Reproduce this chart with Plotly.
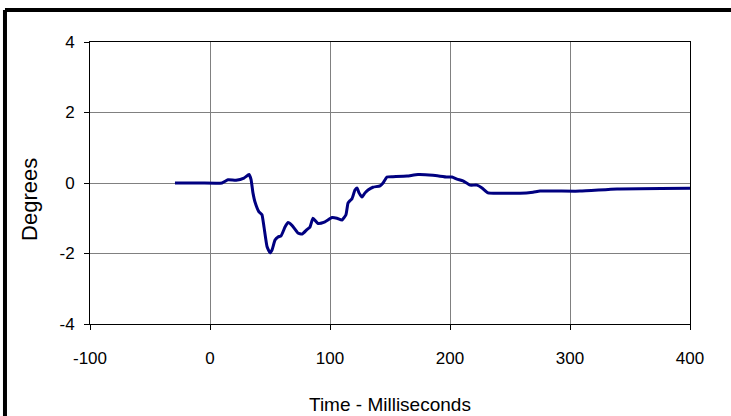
import plotly.graph_objects as go

time_ms = [-29.2, -8.3, 10, 15, 21.7, 28.3, 32.5, 34.2, 35.8, 37.5, 40.8, 43.3, 45, 47.5, 50,
           51.7, 54.2, 56.7, 59.2, 62.5, 65, 68.3, 73.3, 76.7, 80.8, 83.3, 85.8, 90, 95.8,
           101.7, 105.8, 110, 113.3, 115, 116.7, 118.3, 120.8, 122.5, 124.2, 126.7, 129.2,
           131.7, 135.8, 141.7, 144.2, 147.5, 152.5, 164.2, 173.3, 185.8, 197.5, 201.7,
           205.8, 210.8, 216.7, 222.5, 226.7, 231.7, 241.7, 258.3, 269.2, 275, 308.3,
           339.2, 400]
degrees = [0.0, 0.0, 0.0, 0.09, 0.08, 0.14, 0.24, 0.1, -0.28, -0.54, -0.82, -0.9, -1.25,
           -1.8, -1.98, -1.9, -1.62, -1.53, -1.5, -1.25, -1.12, -1.2, -1.42, -1.45, -1.32,
           -1.25, -1.0, -1.15, -1.1, -0.98, -1.0, -1.05, -0.9, -0.57, -0.5, -0.45, -0.2,
           -0.14, -0.28, -0.4, -0.28, -0.2, -0.12, -0.08, 0.0, 0.17, 0.18, 0.2, 0.24, 0.22,
           0.17, 0.17, 0.11, 0.06, -0.06, -0.06, -0.14, -0.28, -0.29, -0.29, -0.26, -0.23,
           -0.23, -0.17, -0.15]

x_ticks = [-100, 0, 100, 200, 300, 400]
x_tick_labels = ["-100", "0", "100", "200", "300", "400"]
y_ticks = [-4, -2, 0, 2, 4]
y_tick_labels = ["-4", "-2", "0", "2", "4"]

FONT = "Liberation Sans, Arial, sans-serif"
tick_font = dict(family=FONT, size=17, color="black")

fig = go.Figure()
fig.add_trace(go.Scatter(x=time_ms, y=degrees, mode="lines",
                         line=dict(color="#000080", width=3, shape="spline", smoothing=0.4),
                         showlegend=False, hoverinfo="skip"))

fig.update_layout(
    width=731, height=416,
    margin=dict(l=90, r=41, t=42, b=92),
    paper_bgcolor="white", plot_bgcolor="white",
    xaxis=dict(range=[-100, 400], tickvals=x_ticks, ticktext=x_tick_labels,
               showgrid=True, gridcolor="#808080", gridwidth=1, zeroline=False,
               showline=True, linecolor="black", linewidth=1, mirror=True,
               ticks="outside", ticklen=5, tickcolor="black", tickfont=tick_font,
               ticklabelstandoff=14),
    yaxis=dict(range=[-4, 4], tickvals=y_ticks, ticktext=y_tick_labels,
               showgrid=True, gridcolor="#808080", gridwidth=1, zeroline=False,
               showline=True, linecolor="black", linewidth=1, mirror=True,
               ticks="outside", ticklen=5, tickcolor="black", tickfont=tick_font,
               ticklabelstandoff=6),
    annotations=[
        dict(text="Time - Milliseconds", xref="paper", yref="paper", x=0.5, y=-0.287,
             xanchor="center", yanchor="middle", showarrow=False,
             font=dict(family=FONT, size=19, color="black")),
        dict(text="Degrees", xref="paper", yref="paper", x=-0.1, y=0.44,
             xanchor="center", yanchor="middle", showarrow=False, textangle=-90,
             font=dict(family=FONT, size=22, color="black")),
    ],
    shapes=[
        dict(type="line", xref="paper", yref="paper", x0=-0.1417, x1=-0.1417, y0=-0.4, y1=1.1135,
             line=dict(color="black", width=4)),
        dict(type="line", xref="paper", yref="paper", x0=-0.1417, x1=1.1, y0=1.1135, y1=1.1135,
             line=dict(color="black", width=4)),
    ],
)

fig.write_html("out.html", config={"displayModeBar": False},
               post_script="document.body.style.margin='0';document.body.style.overflow='hidden';")
